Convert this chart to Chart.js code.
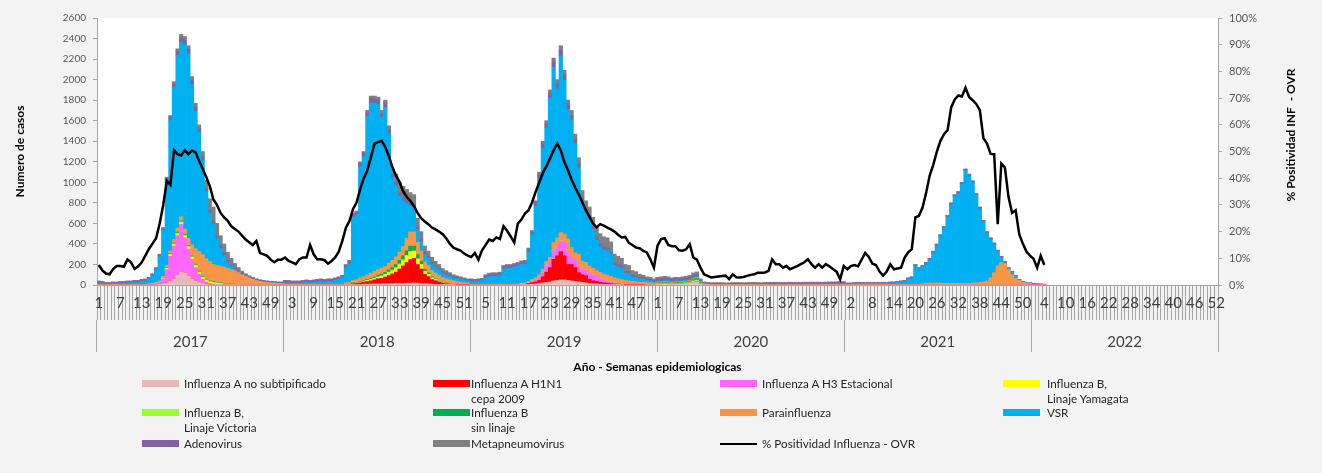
<!DOCTYPE html>
<html>
<head>
<meta charset="utf-8">
<script src="https://cdn.jsdelivr.net/npm/chart.js@4.4.1/dist/chart.umd.min.js"></script>
<style>
  html, body { margin: 0; padding: 0; background: #f3f3f3; }
  #wrap { position: relative; width: 1322px; height: 473px; overflow: hidden; }
  #c { position: absolute; left: 0; top: 0; }
  .item { position: absolute; display: flex; align-items: flex-start; font: 11.7px Lato, sans-serif; line-height: 15px; color: #262626; white-space: nowrap; }
  .sw { width: 37px; height: 7px; margin-top: 4px; flex: none; }
  .sw.line { height: 2px; margin-top: 7px; }
</style>
</head>
<body>
<div id="wrap">
  <canvas id="c" width="1322" height="473"></canvas>
  <div id="legend"></div>
</div>
<script>
// years and weeks per year (2020 has 53 epidemiological weeks)
const years = ['2017', '2018', '2019', '2020', '2021', '2022'];
const weeksPerYear = [52, 52, 52, 53, 52, 52];

const weekLabels = [];
weeksPerYear.forEach(n => { for (let w = 1; w <= n; w++) weekLabels.push(String(w)); });

// case counts per week, one row per year (2022: only weeks 1-4 reported)
const infANoSubtip = [
  0,0,0,0,0,0,0,0,0,0, 0,0,0,0,0,0,5,10,15,20, 40,60,100,130,120,90,60,40,25,15, 10,5,5,3,2,0,0,0,0,0, 0,0,0,0,0,0,0,0,0,0, 0,0,
  0,0,0,0,0,0,0,0,0,0, 0,0,0,0,0,0,0,3,3,5, 5,5,8,8,10,10,10,10,12,12, 12,15,15,15,18,18,20,18,15,12, 10,8,6,5,4,3,2,2,0,0, 0,0,
  0,0,0,0,0,0,0,0,0,0, 0,0,0,0,3,3,5,8,10,15, 20,25,30,40,45,50,50,45,40,35, 30,25,20,15,12,10,8,6,5,4, 3,3,2,0,0,0,0,0,0,0, 0,0,
  10,10,12,10,8,10,10,12,14,18, 25,30,12,3,2,0,0,0,0,0, 0,0,0,0,0,0,0,0,0,0, 0,0,0,0,0,0,0,0,0,0, 0,0,0,0,0,0,0,0,0,0, 0,0,0,
  0,0,0,0,0,0,0,0,0,0, 0,0,0,0,0,0,0,0,0,0, 0,0,0,0,0,0,0,0,0,0, 0,0,0,0,0,0,0,0,0,0, 0,0,0,0,0,0,0,0,0,0, 0,0,
  0,0,0,0,null,null,null,null,null,null, null,null,null,null,null,null,null,null,null,null, null,null,null,null,null,null,null,null,null,null, null,null,null,null,null,null,null,null,null,null, null,null,null,null,null,null,null,null,null,null, null,null
];
const infAH1N1 = [
  0,0,0,0,0,0,0,0,0,0, 0,0,0,0,0,0,0,0,0,0, 0,0,0,0,0,0,0,0,0,0, 0,0,0,0,0,0,0,0,0,0, 0,0,0,0,0,0,0,0,0,0, 0,0,
  0,0,0,0,0,0,0,0,0,0, 0,0,0,0,0,0,0,5,5,8, 10,15,20,25,30,40,50,55,65,80, 95,110,140,170,200,230,240,180,140,90, 70,45,35,25,15,10,8,5,4,3, 2,2,
  0,0,0,0,0,0,0,0,0,0, 0,0,0,0,3,5,10,15,20,30, 60,100,140,210,240,275,235,155,160,135, 90,75,70,40,30,25,20,15,12,10, 8,6,5,4,3,3,2,2,2,0, 0,0,
  0,0,0,0,0,0,0,0,0,0, 0,0,0,0,0,0,0,0,0,0, 0,0,0,0,0,0,0,0,0,0, 0,0,0,0,0,0,0,0,0,0, 0,0,0,0,0,0,0,0,0,0, 0,0,0,
  0,0,0,0,0,0,0,0,0,0, 0,0,0,0,0,0,0,0,0,0, 0,0,0,0,0,0,0,0,0,0, 0,0,0,0,0,0,0,0,0,0, 0,0,0,0,0,0,0,0,0,0, 0,0,
  0,0,0,0,null,null,null,null,null,null, null,null,null,null,null,null,null,null,null,null, null,null,null,null,null,null,null,null,null,null, null,null,null,null,null,null,null,null,null,null, null,null,null,null,null,null,null,null,null,null, null,null
];
const infAH3 = [
  0,0,0,0,0,0,0,0,0,0, 0,0,0,0,5,8,10,15,45,130, 240,320,380,460,340,260,190,130,80,40, 20,10,5,3,2,0,0,0,0,0, 0,0,0,0,0,0,0,0,0,0, 0,0,
  0,0,0,0,0,0,0,0,0,0, 0,0,0,0,0,0,0,0,0,0, 0,0,0,0,0,0,0,0,0,0, 0,0,0,0,0,0,0,0,0,0, 0,0,0,0,0,0,0,0,0,0, 0,0,
  0,0,0,0,0,0,0,0,0,0, 0,0,0,0,2,3,5,10,15,25, 40,60,50,80,90,105,130,130,70,80, 50,50,60,65,60,50,35,25,20,15, 10,8,6,5,4,3,2,0,0,0, 0,0,
  0,0,0,0,0,0,0,0,0,0, 0,0,0,0,0,0,0,0,0,0, 0,0,0,0,0,0,0,0,0,0, 0,0,0,0,0,0,0,0,0,0, 0,0,0,0,0,0,0,0,0,0, 0,0,0,
  0,0,0,0,0,0,0,0,0,0, 0,0,0,0,0,0,0,0,0,0, 0,0,0,0,0,0,0,0,0,0, 0,0,0,0,0,0,0,0,0,0, 0,0,0,0,0,0,0,0,3,4, 5,5,
  3,3,2,2,null,null,null,null,null,null, null,null,null,null,null,null,null,null,null,null, null,null,null,null,null,null,null,null,null,null, null,null,null,null,null,null,null,null,null,null, null,null,null,null,null,null,null,null,null,null, null,null
];
const infBYamagata = [
  0,0,0,0,0,0,0,0,0,0, 0,0,0,0,0,0,0,0,5,8, 10,12,15,15,15,15,15,15,15,15, 12,12,10,10,8,6,5,4,3,2, 0,0,0,0,0,0,0,0,0,0, 0,0,
  0,0,0,0,0,0,0,0,0,0, 0,0,0,0,0,0,0,0,0,3, 3,5,5,8,10,12,15,18,20,25, 30,35,40,50,60,70,65,50,40,25, 20,15,10,8,5,4,3,2,2,0, 0,0,
  0,0,0,0,0,0,0,0,0,0, 0,0,0,0,0,0,0,0,0,0, 0,0,0,0,0,0,0,0,0,0, 0,0,0,0,0,0,0,0,0,0, 0,0,0,0,0,0,0,0,0,0, 0,0,
  0,0,0,0,0,0,0,0,0,0, 0,0,0,0,0,0,0,0,0,0, 0,0,0,0,0,0,0,0,0,0, 0,0,0,0,0,0,0,0,0,0, 0,0,0,0,0,0,0,0,0,0, 0,0,0,
  0,0,0,0,0,0,0,0,0,0, 0,0,0,0,0,0,0,0,0,0, 0,0,0,0,0,0,0,0,0,0, 0,0,0,0,0,0,0,0,0,0, 0,0,0,0,0,0,0,0,0,0, 0,0,
  0,0,0,0,null,null,null,null,null,null, null,null,null,null,null,null,null,null,null,null, null,null,null,null,null,null,null,null,null,null, null,null,null,null,null,null,null,null,null,null, null,null,null,null,null,null,null,null,null,null, null,null
];
const infBVictoria = [
  0,0,0,0,0,0,0,0,0,0, 0,0,0,0,0,0,0,0,0,5, 8,8,10,10,10,10,10,10,8,8, 8,6,6,5,5,4,3,3,2,2, 0,0,0,0,0,0,0,0,0,0, 0,0,
  0,0,0,0,0,0,0,0,0,0, 0,0,0,0,0,0,0,0,0,0, 0,3,3,5,5,5,5,6,6,8, 8,10,10,10,10,10,8,8,6,5, 4,3,2,2,0,0,0,0,0,0, 0,0,
  0,0,0,0,0,0,0,0,0,0, 0,0,0,0,0,0,0,0,0,0, 0,0,0,0,0,0,0,0,0,0, 0,0,0,0,0,0,0,0,0,0, 0,0,0,0,3,4,5,5,6,6, 7,7,
  5,5,6,6,5,6,6,7,8,10, 15,18,6,2,1,0,0,0,0,0, 0,0,0,0,0,0,0,0,0,0, 0,0,0,0,0,0,0,0,0,0, 0,0,0,0,0,0,0,0,0,0, 0,0,0,
  0,0,0,0,0,0,0,0,0,0, 0,0,0,0,0,0,0,0,0,0, 0,0,0,0,0,0,0,0,0,0, 0,0,0,0,0,0,0,0,0,0, 0,0,0,0,0,0,0,0,0,0, 0,0,
  0,0,0,0,null,null,null,null,null,null, null,null,null,null,null,null,null,null,null,null, null,null,null,null,null,null,null,null,null,null, null,null,null,null,null,null,null,null,null,null, null,null,null,null,null,null,null,null,null,null, null,null
];
const infBSinLinaje = [
  0,0,0,0,0,0,0,0,0,0, 0,0,0,0,0,0,0,0,0,5, 6,8,10,10,10,8,8,8,8,8, 6,6,6,5,5,4,3,3,2,2, 0,0,0,0,0,0,0,0,0,0, 0,0,
  0,0,0,0,0,0,0,0,0,0, 0,0,0,0,0,0,0,0,0,3, 3,5,5,8,10,12,15,18,20,22, 25,30,35,40,45,50,45,40,30,20, 15,10,8,6,4,3,2,2,2,0, 0,0,
  0,0,0,0,0,0,0,0,0,0, 0,0,0,0,0,0,0,0,0,0, 0,0,0,0,0,0,0,0,0,0, 0,0,0,0,0,0,0,0,0,0, 0,0,0,0,0,0,0,0,0,0, 0,0,
  5,5,6,6,5,6,6,6,7,8, 12,15,6,2,1,0,0,0,0,0, 0,0,0,0,0,0,0,0,0,0, 0,0,0,0,0,0,0,0,0,0, 0,0,0,0,0,0,0,0,0,0, 0,0,0,
  0,0,0,0,0,0,0,0,0,0, 0,0,0,0,0,0,0,0,0,0, 0,0,0,0,0,0,0,0,0,0, 0,0,0,0,0,0,0,0,0,0, 0,0,0,0,0,0,0,0,0,0, 0,0,
  0,0,0,0,null,null,null,null,null,null, null,null,null,null,null,null,null,null,null,null, null,null,null,null,null,null,null,null,null,null, null,null,null,null,null,null,null,null,null,null, null,null,null,null,null,null,null,null,null,null, null,null
];
const parainfluenza = [
  5,5,3,3,4,4,5,5,5,5, 5,6,6,7,8,8,10,15,20,25, 30,35,40,40,50,70,110,150,190,210, 200,190,170,165,160,160,150,140,130,115, 100,85,70,55,45,35,30,25,20,20, 15,15,
  8,8,8,8,8,8,8,8,8,8, 8,8,8,8,8,8,8,15,20,25, 30,35,40,45,50,55,55,60,60,65, 70,75,80,90,120,140,140,120,100,75, 70,60,55,50,45,40,35,30,25,22, 20,18,
  8,8,8,8,8,8,8,8,8,8, 8,8,8,8,10,10,15,20,25,30, 35,45,50,85,85,80,80,120,95,65, 130,80,70,65,60,55,60,60,60,55, 50,45,40,35,30,25,22,20,18,16, 15,12,
  8,8,8,8,8,8,8,8,8,8, 8,8,6,3,3,3,3,3,3,3, 3,3,3,3,3,3,3,3,3,3, 3,3,3,3,3,3,3,3,3,3, 3,3,3,3,3,3,3,3,3,3, 3,3,3,
  3,3,3,3,3,3,3,3,3,3, 3,3,3,3,4,4,5,5,5,8, 8,10,15,20,20,20,20,15,15,15, 15,15,15,15,15,20,20,25,30,40, 70,120,185,218,208,150,100,65,40,23, 15,10,
  3,2,2,1,null,null,null,null,null,null, null,null,null,null,null,null,null,null,null,null, null,null,null,null,null,null,null,null,null,null, null,null,null,null,null,null,null,null,null,null, null,null,null,null,null,null,null,null,null,null, null,null
];
const vsr = [
  15,13,8,8,10,10,13,13,16,16, 20,19,29,32,41,72,123,234,445,820, 1271,1482,1680,1700,1795,1802,1562,1342,1159,919, 654,471,388,261,173,111,57,30,15,8, 5,3,2,3,1,2,2,2,2,2, 2,2,
  12,12,7,7,7,12,17,12,17,22, 27,22,27,27,37,47,62,144,179,616, 629,1082,1169,1541,1660,1636,1610,1463,1547,1263, 805,690,545,445,337,252,242,126,94,68, 69,62,54,49,39,37,34,29,30,30, 26,20,
  29,24,29,34,57,72,77,77,82,147, 157,157,167,177,182,184,285,437,700,945, 1180,1300,1550,1705,1450,1720,1500,1260,1240,1060, 840,585,485,458,378,295,249,236,237,216, 120,116,110,71,70,42,41,32,28,23, 20,12,
  7,10,10,10,8,8,8,8,8,8, 10,10,5,3,3,3,3,3,3,2, 2,3,3,3,3,4,4,4,3,3, 4,4,4,5,5,4,4,5,5,5, 5,6,6,6,5,6,6,7,7,8, 8,9,10,
  7,7,12,12,12,12,12,12,12,12, 12,12,17,17,21,26,27,52,62,177, 147,165,190,225,293,363,452,537,647,767, 847,877,967,1097,1047,977,852,717,582,462, 372,272,140,47,10,8,25,20,6,2, 2,2,
  2,1,1,1,null,null,null,null,null,null, null,null,null,null,null,null,null,null,null,null, null,null,null,null,null,null,null,null,null,null, null,null,null,null,null,null,null,null,null,null, null,null,null,null,null,null,null,null,null,null, null,null
];
const adenovirus = [
  15,12,10,10,12,12,12,12,14,14, 15,15,15,15,15,16,16,18,20,25, 30,35,40,45,45,40,40,35,35,35, 30,30,30,28,25,25,22,20,18,16, 15,14,12,12,10,10,10,10,10,10, 10,10,
  20,20,20,20,20,20,20,20,20,20, 20,20,20,20,20,20,20,25,25,30, 30,35,35,40,45,45,45,40,40,40, 35,35,35,30,30,30,30,28,25,25, 22,22,20,20,18,18,16,15,15,15, 14,14,
  15,15,15,15,25,25,25,25,25,25, 25,25,25,25,25,25,30,30,35,35, 40,40,45,50,50,55,50,45,45,40, 40,35,35,32,30,30,28,28,26,25, 24,22,22,20,20,18,18,16,16,15, 15,14,
  25,25,25,22,20,20,20,20,20,22, 25,25,15,10,10,12,12,13,12,11, 12,13,14,13,12,12,13,14,13,12, 13,14,15,14,13,13,14,15,14,13, 14,15,14,15,16,15,14,15,16,15, 16,17,16,
  8,8,8,8,8,8,8,8,8,8, 8,8,8,8,8,8,10,10,10,12, 12,12,12,12,14,14,15,15,15,15, 15,15,15,15,15,15,15,15,15,15, 15,15,12,12,10,10,8,8,6,6, 5,5,
  7,6,5,4,null,null,null,null,null,null, null,null,null,null,null,null,null,null,null,null, null,null,null,null,null,null,null,null,null,null, null,null,null,null,null,null,null,null,null,null, null,null,null,null,null,null,null,null,null,null, null,null
];
const metapneumovirus = [
  5,5,4,4,4,4,5,5,5,5, 5,5,5,6,6,6,6,8,10,12, 15,20,25,30,35,35,35,40,40,50, 80,110,140,120,100,90,80,60,40,25, 15,8,6,5,4,3,3,3,3,3, 3,3,
  5,5,5,5,5,5,5,5,5,5, 5,5,5,5,5,5,5,8,8,10, 10,15,15,20,20,25,25,30,30,35, 50,80,100,110,110,100,90,80,70,60, 50,45,40,35,30,25,20,15,12,10, 8,6,
  8,8,8,8,10,10,10,10,10,10, 10,10,10,10,10,10,10,10,15,20, 25,30,35,40,40,45,45,45,50,55, 60,70,80,85,90,95,100,100,100,95, 85,80,75,65,60,45,40,30,25,20, 18,15,
  15,17,18,18,16,17,17,19,20,21, 23,22,10,7,5,4,4,4,4,4, 4,4,4,4,4,4,4,4,4,4, 4,4,4,4,4,4,4,4,4,4, 4,4,4,4,4,4,4,4,4,4, 4,4,4,
  2,2,2,2,2,2,2,2,2,2, 2,2,2,2,2,2,3,3,3,3, 3,3,3,3,3,3,3,3,3,3, 3,3,3,3,3,3,3,3,3,3, 3,3,3,3,2,2,2,2,0,0, 0,0,
  0,0,0,0,null,null,null,null,null,null, null,null,null,null,null,null,null,null,null,null, null,null,null,null,null,null,null,null,null,null, null,null,null,null,null,null,null,null,null,null, null,null,null,null,null,null,null,null,null,null, null,null
];
// % positividad influenza - OVR (right axis)
const positividad = [
  7.5,5.5,4.3,4,6,7.1,7.1,6.8,9.6,8.5, 6,7,8.5,11,13.5,15.5,17.5,23,30,39, 37.5,50.5,49,48.5,50.5,49,50.4,49.7,46.5,43.5, 40.5,37,32,30,27,25.3,24,22,21,20, 18.5,17,16,15,16.5,12,11.5,10.9,9.5,8.5, 9.5,9.5,
  10.3,9,8.5,7.8,9.6,10.3,10.3,15,11.5,9.6, 9.6,9.3,8,9,10.3,12.5,16.5,21.5,24,28.5, 31,36,40,43,48,53,53.5,54,51.6,48.3, 44,41,38.5,35,33,31.5,29.5,27,25,23.8, 22.8,21.5,20.8,20,19,17.5,15.5,14,13.4,12.9, 11.8,11,
  10.5,12,9.5,13,15,17,16.5,17.8,17.2,22, 20.3,18.2,15.9,23,24.5,26.8,28,31,35,38.5, 42,44.5,47.5,50.4,52.9,50.4,46,43,39.5,36.5, 34,31,28,25.5,23,21.6,22.8,22.2,21.5,20.8, 20,18.8,17.8,18,15.8,15,14,13.8,12.8,12.2, 9.6,6.5,
  14.7,17.2,17.5,15,14.5,14.5,13,12.8,13.4,15.3, 10.3,9.5,6.5,4,3.4,2.8,3,3.2,3.4,3.5, 2.2,4,2.9,2.8,3,3.4,3.8,4,4.6,4.6, 4.7,5.3,9.6,7.8,7.8,6.5,7.1,5.9,6.5,7.1, 7.8,8.5,9.6,7.8,6.5,7.8,6.5,7.8,7,6, 5,2.1,7.1,
  5.9,7.1,7.5,7,9.5,12,10.5,8,7.5,5, 3.5,5,7.8,5.9,6.2,6.5,10.3,12.2,13.4,25.3, 25.9,29,34.5,41,45,50,54,56.5,58,66.5, 69.5,71,70.6,73.9,70.4,69.2,67.8,65.5,55,53, 49.1,49,22.8,45.5,44,33,27,28,19,15.5, 12.5,11,
  9.8,6.5,10.9,7.5,null,null,null,null,null,null, null,null,null,null,null,null,null,null,null,null, null,null,null,null,null,null,null,null,null,null, null,null,null,null,null,null,null,null,null,null, null,null,null,null,null,null,null,null,null,null, null,null
];

const series = [
  ['Influenza A no subtipificado', '#e6b9b8', infANoSubtip],
  ['Influenza A H1N1\ncepa 2009', '#ff0000', infAH1N1],
  [' Influenza A H3 Estacional', '#ff66ff', infAH3],
  ['Influenza B,\nLinaje Yamagata', '#ffff00', infBYamagata],
  ['Influenza B,\nLinaje Victoria', '#99ff33', infBVictoria],
  ['Influenza B\nsin linaje', '#00b050', infBSinLinaje],
  ['Parainfluenza', '#f79646', parainfluenza],
  ['VSR', '#00b0f0', vsr],
  ['Adenovirus', '#8064a2', adenovirus],
  ['Metapneumovirus', '#808080', metapneumovirus]
];

series.forEach(s => { if (s[2].length !== weekLabels.length) console.error('length', s[0], s[2].length); });
if (positividad.length !== weekLabels.length) console.error('length positividad', positividad.length);

const FONT = 'Lato';
Chart.defaults.font.family = FONT;

const plotBg = {
  id: 'plotBg',
  beforeDraw(chart) {
    const { ctx, chartArea: a } = chart;
    ctx.save();
    ctx.fillStyle = '#ffffff';
    ctx.fillRect(a.left, a.top, a.right - a.left, a.bottom - a.top);
    ctx.restore();
  }
};

// right axis title reads bottom-to-top like the left one
const rightTitle = {
  id: 'rightTitle',
  afterDraw(chart) {
    const s = chart.scales.y1;
    const ctx = chart.ctx;
    ctx.save();
    ctx.translate(s.left + 73, 135);
    ctx.rotate(-Math.PI / 2);
    ctx.font = 'bold 12px ' + FONT;
    ctx.fillStyle = '#000';
    ctx.textAlign = 'center';
    ctx.textBaseline = 'middle';
    ctx.fillText('% Positividad INF  - OVR', 0, 0);
    ctx.restore();
  }
};

const datasets = series.map(([label, color, data]) => ({
  type: 'bar',
  label: label,
  data: data,
  backgroundColor: color,
  borderWidth: 0,
  barPercentage: 1,
  categoryPercentage: 1,
  stack: 'casos',
  yAxisID: 'y',
  order: 1
}));
datasets.push({
  type: 'line',
  label: '% Positividad Influenza - OVR',
  data: positividad,
  borderColor: '#000000',
  backgroundColor: '#000000',
  borderWidth: 2.5,
  pointRadius: 0,
  tension: 0,
  fill: false,
  yAxisID: 'y1',
  order: 0
});

const chart = new Chart(document.getElementById('c'), {
  type: 'bar',
  data: { labels: weekLabels, datasets: datasets },
  options: {
    responsive: false,
    animation: false,
    devicePixelRatio: 1,
    layout: { padding: { top: 18, bottom: 98, left: 0, right: 0 } },
    plugins: { legend: { display: false }, tooltip: { enabled: false } },
    scales: {
      x: {
        stacked: true,
        offset: true,
        grid: { offset: true, drawOnChartArea: false, tickLength: 35, color: '#a6a6a6' },
        border: { display: true, color: '#a6a6a6' },
        ticks: {
          autoSkip: false, maxRotation: 0, minRotation: 0, padding: -26,
          color: '#404040', font: { size: 15 },
          callback: (v, i) => (i % 6 === 0 ? weekLabels[i] : '')
        },
        afterFit: s => { s.height = 35; }
      },
      x2: {
        type: 'category',
        labels: years,
        position: 'bottom',
        offset: true,
        grid: { offset: true, drawOnChartArea: false, tickLength: 32, color: '#a6a6a6' },
        border: { display: false },
        ticks: { padding: -19, autoSkip: false, maxRotation: 0, color: '#404040', font: { size: 15 } },
        title: {
          display: true, text: 'Año - Semanas epidemiologicas', color: '#000',
          font: { size: 12, weight: 'bold' }, padding: { top: 0, bottom: 1 }
        },
        afterFit: s => { s.height = 55; }
      },
      y: {
        stacked: true,
        min: 0, max: 2600,
        ticks: { stepSize: 200, callback: v => String(v), color: '#595959', font: { size: 10 }, padding: 7 },
        grid: { drawOnChartArea: false, tickLength: 4, color: '#a6a6a6' },
        border: { color: '#a6a6a6' },
        title: {
          display: true, text: 'Numero de casos', color: '#000',
          font: { size: 12, weight: 'bold' }, padding: { top: 13, bottom: 0 }
        },
        afterFit: s => { s.width = 97; }
      },
      y1: {
        position: 'right',
        min: 0, max: 100,
        ticks: { stepSize: 10, callback: v => v + '%', color: '#595959', font: { size: 11 }, padding: 7 },
        grid: { drawOnChartArea: false, tickLength: 4, color: '#a6a6a6' },
        border: { color: '#a6a6a6' },
        afterFit: s => { s.width = 104; }
      }
    }
  },
  plugins: [plotBg, rightTitle]
});

// legend laid out like the original: 4 columns, 3 rows
const colX = [142, 433, 720, 1003];
const textGap = [42, 38, 42, 44];
const rowY = [376, 405, 436];
const legendEl = document.getElementById('legend');
chart.data.datasets.forEach((ds, i) => {
  const col = i % 4, row = Math.floor(i / 4);
  const item = document.createElement('div');
  item.className = 'item';
  item.style.left = colX[col] + 'px';
  item.style.top = rowY[row] + 'px';
  const sw = document.createElement('span');
  sw.className = ds.type === 'line' ? 'sw line' : 'sw';
  sw.style.background = ds.type === 'line' ? ds.borderColor : ds.backgroundColor;
  const txt = document.createElement('span');
  txt.style.marginLeft = (textGap[col] - 37) + 'px';
  txt.innerHTML = ds.label.split('\n').join('<br>');
  item.append(sw, txt);
  legendEl.appendChild(item);
});
</script>
</body>
</html>
